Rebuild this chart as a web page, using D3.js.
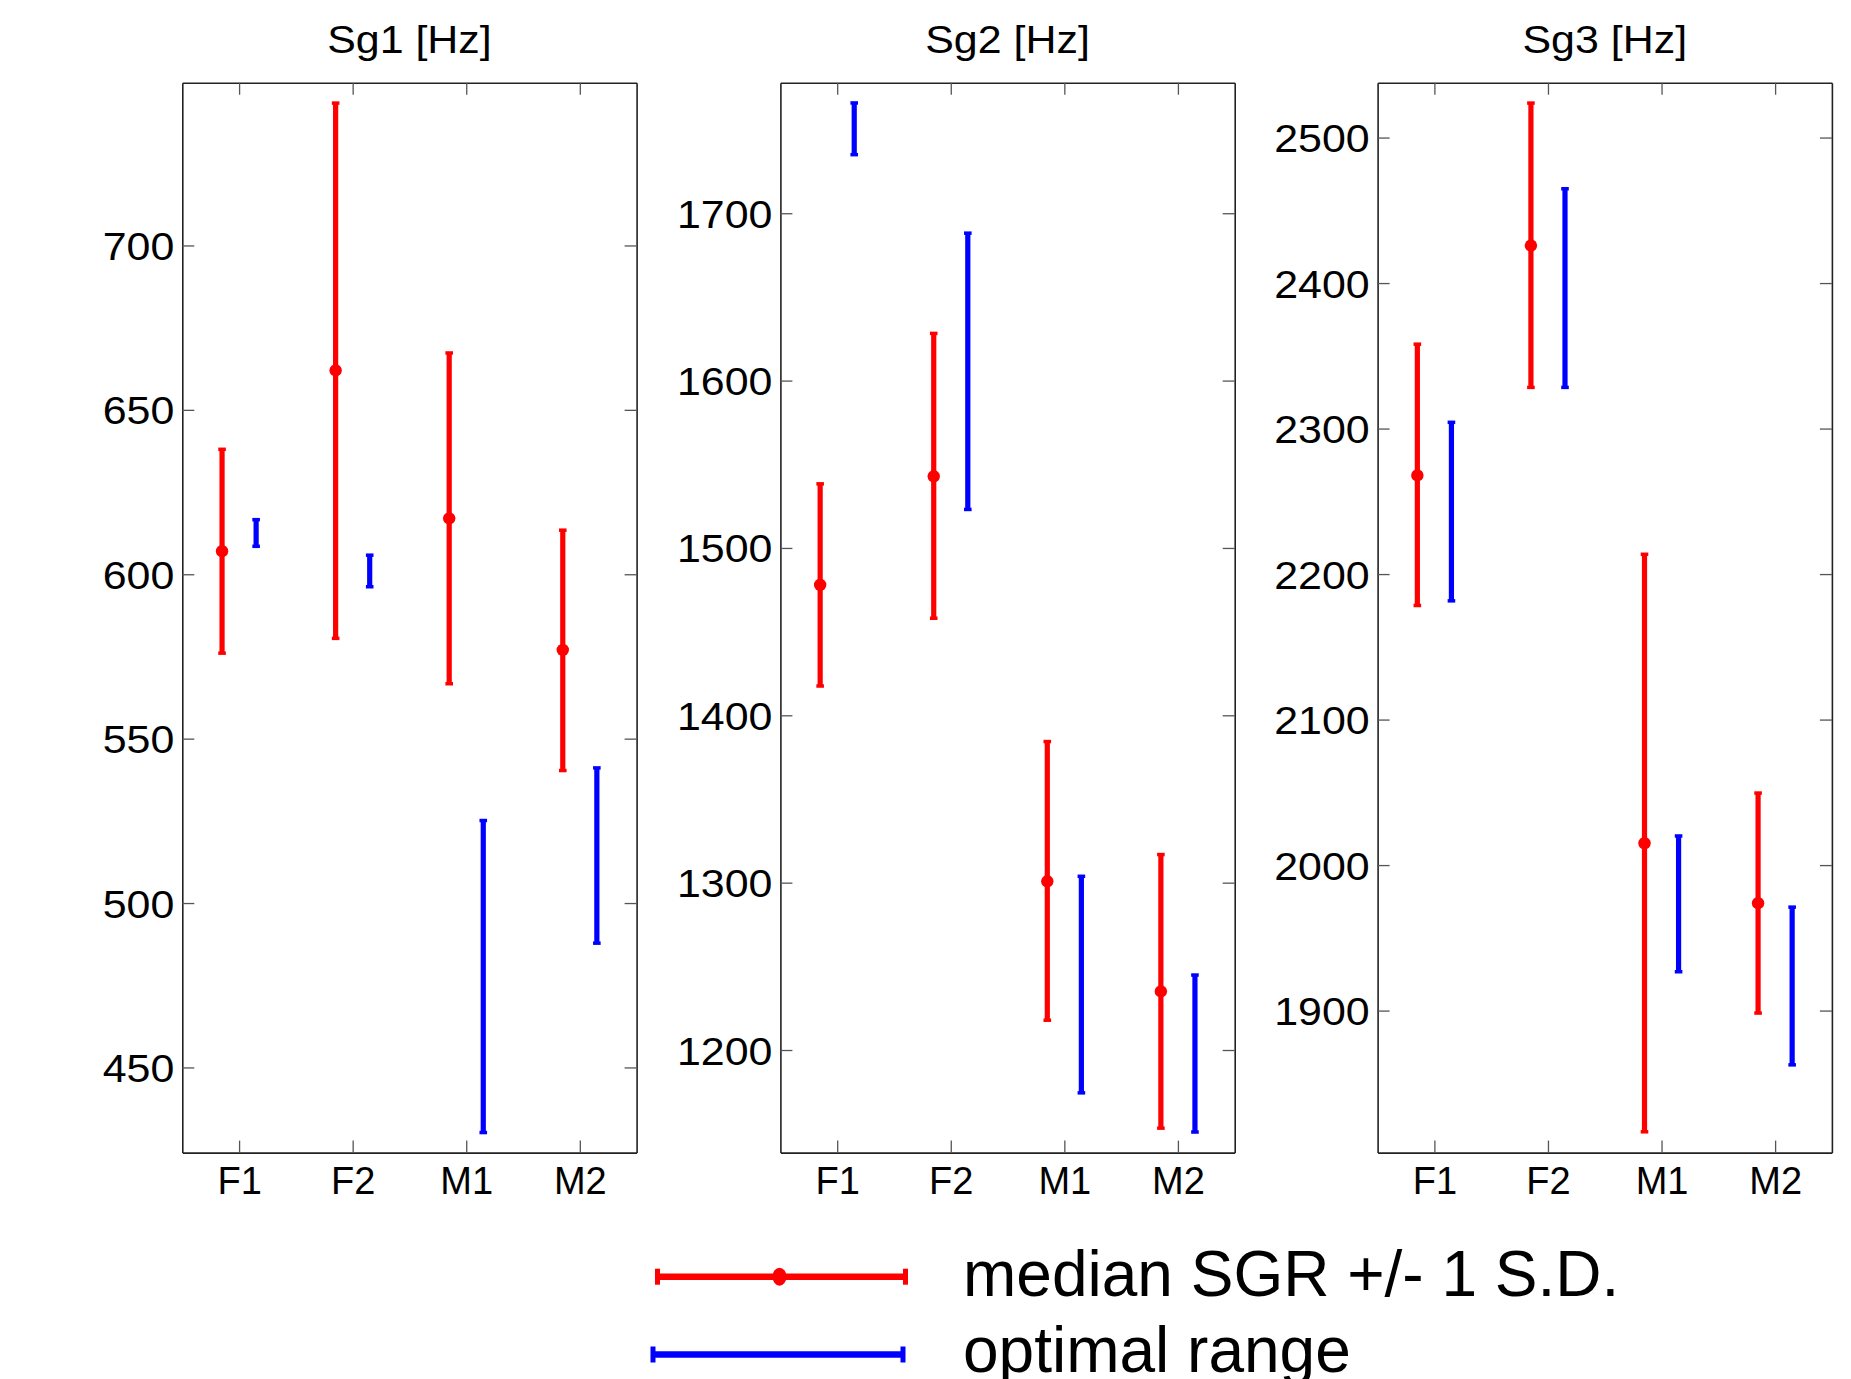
<!DOCTYPE html>
<html>
<head>
<meta charset="utf-8">
<script src="https://cdn.jsdelivr.net/npm/d3@7"></script>
<style>
  html, body { margin: 0; padding: 0; background: #fff; }
  svg { display: block; }
  text { font-family: "Liberation Sans", Arial, Helvetica, sans-serif; fill: #000; }
</style>
</head>
<body>
<svg id="chart" width="1851" height="1379"></svg>
<script>
// ---------- data ----------
const categories = ["F1", "F2", "M1", "M2"];
const panelTitles = ["Sg1 [Hz]", "Sg2 [Hz]", "Sg3 [Hz]"];

const sg1Median  = [607, 662, 617, 577];
const sg1Low     = [576, 580.5, 566.7, 540.3];
const sg1High    = [638, 743.3, 667.3, 613.4];
const sg1OptLow  = [608.5, 596.2, 430.2, 487.8];
const sg1OptHigh = [616.6, 605.8, 525.1, 541.1];
const sg1Ticks   = [450, 500, 550, 600, 650, 700];
const sg1Domain  = [424.1, 749.5];

const sg2Median  = [1478, 1542.8, 1300.8, 1235];
const sg2Low     = [1417.5, 1458, 1217.8, 1153.3];
const sg2High    = [1538.3, 1628.2, 1384.3, 1316.8];
const sg2OptLow  = [1735, 1523, 1174.4, 1151];
const sg2OptHigh = [1765.9, 1688.1, 1303.8, 1244.8];
const sg2Ticks   = [1200, 1300, 1400, 1500, 1600, 1700];
const sg2Domain  = [1138.7, 1778];

const sg3Median  = [2267.8, 2425.8, 2015, 1973.8];
const sg3Low     = [2178.4, 2328.3, 1816.7, 1898.3];
const sg3High    = [2358, 2523.7, 2213.6, 2049.5];
const sg3OptLow  = [2181.6, 2328.3, 1926.7, 1862.7];
const sg3OptHigh = [2304.3, 2464.8, 2020, 1971.1];
const sg3Ticks   = [1900, 2000, 2100, 2200, 2300, 2400, 2500];
const sg3Domain  = [1802.4, 2537.7];

const legendLabels = ["median SGR +/- 1 S.D.", "optimal range"];

// ---------- layout ----------
const RED = "#ff0000", BLUE = "#0000ff";
const panelLefts = [182.3, 780.4, 1377.6];
const panelWidth = 454.3;
const plotTop = 82.7, plotBottom = 1152.6;
const offset = 0.15;   // category-unit offset for red / blue bars

const panels = [
  { title: panelTitles[0], med: sg1Median, lo: sg1Low, hi: sg1High, olo: sg1OptLow, ohi: sg1OptHigh, ticks: sg1Ticks, domain: sg1Domain },
  { title: panelTitles[1], med: sg2Median, lo: sg2Low, hi: sg2High, olo: sg2OptLow, ohi: sg2OptHigh, ticks: sg2Ticks, domain: sg2Domain },
  { title: panelTitles[2], med: sg3Median, lo: sg3Low, hi: sg3High, olo: sg3OptLow, ohi: sg3OptHigh, ticks: sg3Ticks, domain: sg3Domain }
];

const svg = d3.select("#chart");
const tickLen = 12;

panels.forEach((p, pi) => {
  const left = panelLefts[pi], right = left + panelWidth;
  const x = d3.scaleLinear().domain([0.5, categories.length + 0.5]).range([left, right]);
  const y = d3.scaleLinear().domain(p.domain).range([plotBottom, plotTop]);
  const g = svg.append("g");

  // axes (Matlab-style box with inward ticks)
  const xIdx = categories.map((c, i) => i + 1);
  const xAxisB = d3.axisBottom(x).tickValues(xIdx).tickFormat(d => categories[d - 1]).tickSizeInner(-tickLen).tickSizeOuter(0).tickPadding(0);
  const xAxisT = d3.axisTop(x).tickValues(xIdx).tickFormat("").tickSizeInner(-tickLen).tickSizeOuter(0);
  const yAxisL = d3.axisLeft(y).tickValues(p.ticks).tickFormat(d3.format("d")).tickSizeInner(-tickLen).tickSizeOuter(0).tickPadding(0);
  const yAxisR = d3.axisRight(y).tickValues(p.ticks).tickFormat("").tickSizeInner(-tickLen).tickSizeOuter(0);

  const gb = g.append("g").attr("transform", `translate(0,${plotBottom})`).call(xAxisB);
  const gt = g.append("g").attr("transform", `translate(0,${plotTop})`).call(xAxisT);
  const gl = g.append("g").attr("transform", `translate(${left},0)`).call(yAxisL);
  const gr = g.append("g").attr("transform", `translate(${right},0)`).call(yAxisR);

  [gb, gt, gl, gr].forEach(a => {
    a.select(".domain").attr("stroke", "#222").attr("stroke-width", 1.6);
    a.selectAll(".tick line").attr("stroke", "#555").attr("stroke-width", 1.3);
  });
  gb.selectAll(".tick text").attr("y", 0).attr("dy", "1.08em")
    .style("font-size", "38px").style("font-family", '"Liberation Sans", Arial, sans-serif').attr("fill", "#000");
  gl.selectAll(".tick text").attr("x", 0).attr("dy", "0.36em")
    .attr("transform", "translate(-8,0) scale(1.1,1)")
    .style("font-size", "39px").style("font-family", '"Liberation Sans", Arial, sans-serif').attr("fill", "#000");

  // title
  g.append("text")
    .attr("transform", `translate(${(left + right) / 2},53.3) scale(1.13,1)`)
    .attr("text-anchor", "middle")
    .style("font-size", "38px")
    .text(p.title);

  // error bars
  const capW = 3.8;
  const drawBar = (xi, lo, hi, color) => {
    const bg = g.append("g");
    bg.append("line").attr("x1", x(xi)).attr("x2", x(xi)).attr("y1", y(lo)).attr("y2", y(hi))
      .attr("stroke", color).attr("stroke-width", 5.2);
    [lo, hi].forEach(v => {
      bg.append("line").attr("x1", x(xi) - capW).attr("x2", x(xi) + capW).attr("y1", y(v)).attr("y2", y(v))
        .attr("stroke", color).attr("stroke-width", 3.5);
    });
  };
  categories.forEach((c, i) => {
    drawBar(i + 1 - offset, p.lo[i], p.hi[i], RED);
    drawBar(i + 1 + offset, p.olo[i], p.ohi[i], BLUE);
  });
  g.selectAll("circle.med").data(p.med).enter().append("circle")
    .attr("class", "med")
    .attr("cx", (d, i) => x(i + 1 - offset))
    .attr("cy", d => y(d))
    .attr("r", 6.2)
    .attr("fill", RED);
});

// ---------- legend ----------
const lg = svg.append("g");
const legendRows = [
  { label: legendLabels[0], color: RED, x1: 657.5, x2: 905.5, y: 1276.7, dot: true, ty: 1296 },
  { label: legendLabels[1], color: BLUE, x1: 653, x2: 903, y: 1354.5, dot: false, ty: 1372 }
];
legendRows.forEach(r => {
  lg.append("line").attr("x1", r.x1).attr("x2", r.x2).attr("y1", r.y).attr("y2", r.y)
    .attr("stroke", r.color).attr("stroke-width", 6.5);
  [r.x1, r.x2].forEach(xx => {
    lg.append("line").attr("x1", xx).attr("x2", xx).attr("y1", r.y - 8).attr("y2", r.y + 8)
      .attr("stroke", r.color).attr("stroke-width", 5);
  });
  if (r.dot) {
    lg.append("ellipse").attr("cx", (r.x1 + r.x2) / 2 - 2).attr("cy", r.y).attr("rx", 7).attr("ry", 9).attr("fill", r.color);
  }
  lg.append("text").attr("x", 963).attr("y", r.ty).style("font-size", "64px").text(r.label);
});
</script>
</body>
</html>
